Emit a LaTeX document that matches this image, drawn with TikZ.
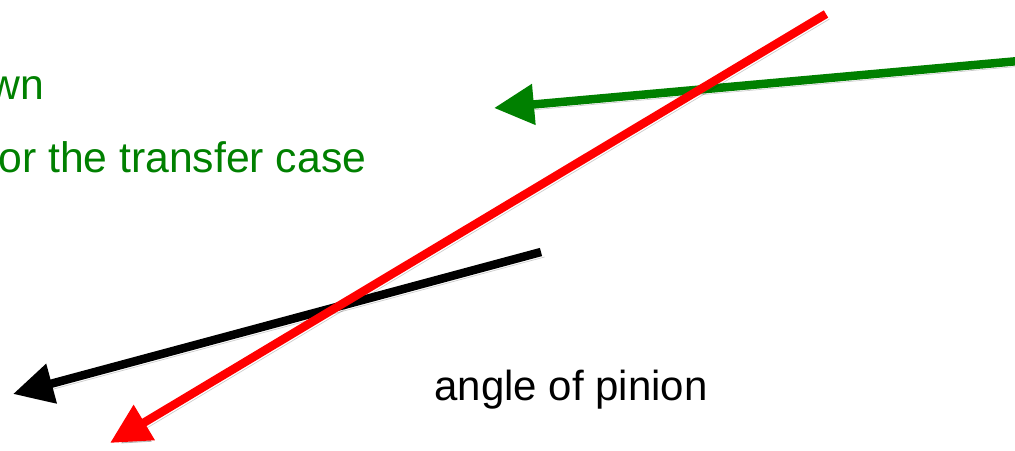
\documentclass[tikz,border=0pt]{standalone}
\usepackage{fontspec}
\setmainfont{Liberation Sans}
\usetikzlibrary{arrows.meta,positioning}
\definecolor{notegreen}{RGB}{0,128,0}
\definecolor{axisred}{RGB}{255,0,0}

\tikzset{
  pointer/.style={line width=0.17cm, line cap=butt,
    -{Triangle[length=0.8cm,width=0.78cm]},
    preaction={draw=black, opacity=0.2,
      transform canvas={shift={(0.07cm,-0.1cm)}}}},
  caption/.style={inner sep=0pt, anchor=base west},
  bigtext/.style={font=\fontsize{24.3}{29}\selectfont},
  smalltext/.style={font=\fontsize{23.9}{29}\selectfont}
}

\begin{document}
\begin{tikzpicture}[x=0.02cm, y=-0.02cm]

% Frame
\path[use as bounding box, clip] (0,0) rectangle (1015,450);

% Labels
\node[caption, bigtext, text=notegreen] (wn) at (-11,99) {wn};
\node[caption, bigtext, text=notegreen] (transfer) at (-2,172) {or the transfer case};
\node[caption, smalltext, text=black] (pinion) at (434,400) {angle of pinion};

% End points
\coordinate (greenstart) at (1030,60);
\coordinate (greentip) at (494,108);
\coordinate (blackstart) at (541,252);
\coordinate (blacktip) at (13,394);
\coordinate (redstart) at (826,14);
\coordinate (redtip) at (110,443);

% Arrows
\draw[pointer, notegreen] (greenstart) -- (greentip);
\draw[pointer, black] (blackstart) -- (blacktip);
\draw[pointer, axisred] (redstart) -- (redtip);

\end{tikzpicture}
\end{document}
